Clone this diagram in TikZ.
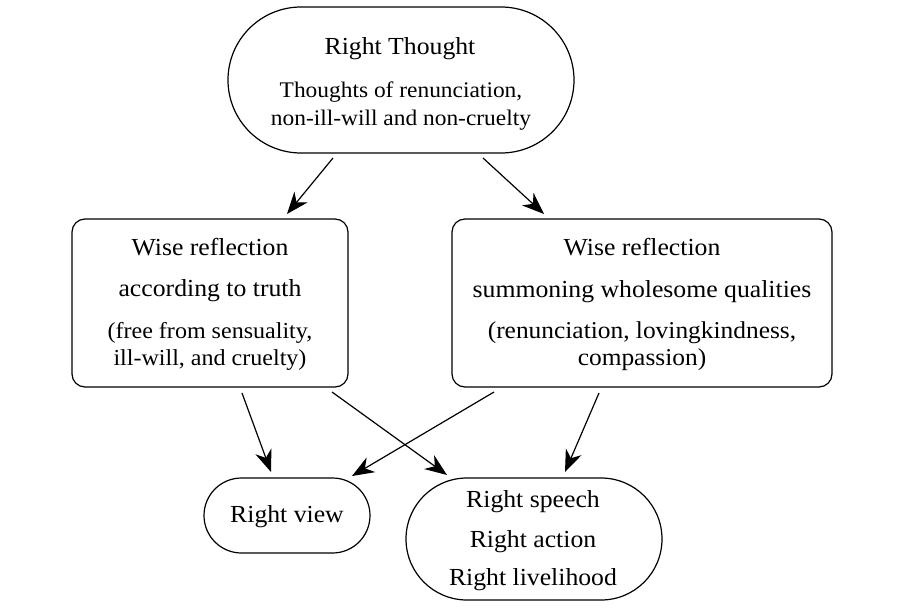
\documentclass[tikz,border=0pt]{standalone}
\usepackage{fontspec}
\setmainfont[FakeStretch=1.05]{Liberation Serif}
\usetikzlibrary{arrows.meta}
\begin{document}
\begin{tikzpicture}[x=1pt,y=-1pt,
  shapebox/.style={draw,line width=1.2pt,inner sep=0pt},
  big/.style={anchor=base,inner sep=0pt,font=\fontsize{24.5}{24}\selectfont},
  small/.style={anchor=base,inner sep=0pt,font=\fontsize{22.3}{22}\selectfont},
  lpar/.style={anchor=base,inner sep=0pt,font=\fontsize{22.9}{22}\selectfont},
  mid/.style={anchor=base,inner sep=0pt,font=\fontsize{24.2}{24}\selectfont},
  arr/.style={line width=1.2pt,-{Stealth[length=22pt,width=17pt,inset=7pt]}}]
\useasboundingbox (0,0) rectangle (902,610);
\fill[white] (0,0) rectangle (902,610);
% shapes
\node[shapebox,rounded corners=73pt,minimum width=346pt,minimum height=146pt] (top) at (401,80) {};
\node[shapebox,rounded corners=13pt,minimum width=276pt,minimum height=168pt] (left) at (210,303) {};
\node[shapebox,rounded corners=13pt,minimum width=380pt,minimum height=168pt] (right) at (642,303) {};
\node[shapebox,rounded corners=37.5pt,minimum width=166pt,minimum height=75pt] (view) at (287,515.5) {};
\node[shapebox,rounded corners=61pt,minimum width=256pt,minimum height=122pt] (speech) at (534,539) {};
% texts
\node[big] (t1) at (400,55) {Right Thought};
\node[small] (t2) at (401,97) {Thoughts of renunciation,};
\node[small] (t3) at (401,125) {non-ill-will and non-cruelty};
\node[big] (l1) at (210,255) {Wise reflection};
\node[big] (l2) at (210,296) {according to truth};
\node[lpar] (l3) at (210,338) {(free from sensuality,};
\node[lpar] (l4) at (210,365) {ill-will, and cruelty)};
\node[big] (r1) at (642,255) {Wise reflection};
\node[big] (r2) at (642,297) {summoning wholesome qualities};
\node[mid] (r3) at (642,338) {(renunciation, lovingkindness,};
\node[mid] (r4) at (642,365) {compassion)};
\node[big] (v1) at (287,522) {Right view};
\node[big] (s1) at (533,507) {Right speech};
\node[big] (s2) at (533,547) {Right action};
\node[big] (s3) at (533,585) {Right livelihood};
% connector endpoints
\coordinate (a1s) at (333,158); \coordinate (a1e) at (287,214);
\coordinate (a2s) at (483,158); \coordinate (a2e) at (544,214);
\coordinate (a3s) at (242,393); \coordinate (a3e) at (271,472);
\coordinate (a4s) at (332,392); \coordinate (a4e) at (447,475);
\coordinate (a5s) at (494,392); \coordinate (a5e) at (352,476);
\coordinate (a6s) at (599,393); \coordinate (a6e) at (565,472);
\draw[arr] (a1s) -- (a1e);
\draw[arr] (a2s) -- (a2e);
\draw[arr] (a3s) -- (a3e);
\draw[arr] (a4s) -- (a4e);
\draw[arr] (a5s) -- (a5e);
\draw[arr] (a6s) -- (a6e);
\end{tikzpicture}
\end{document}
